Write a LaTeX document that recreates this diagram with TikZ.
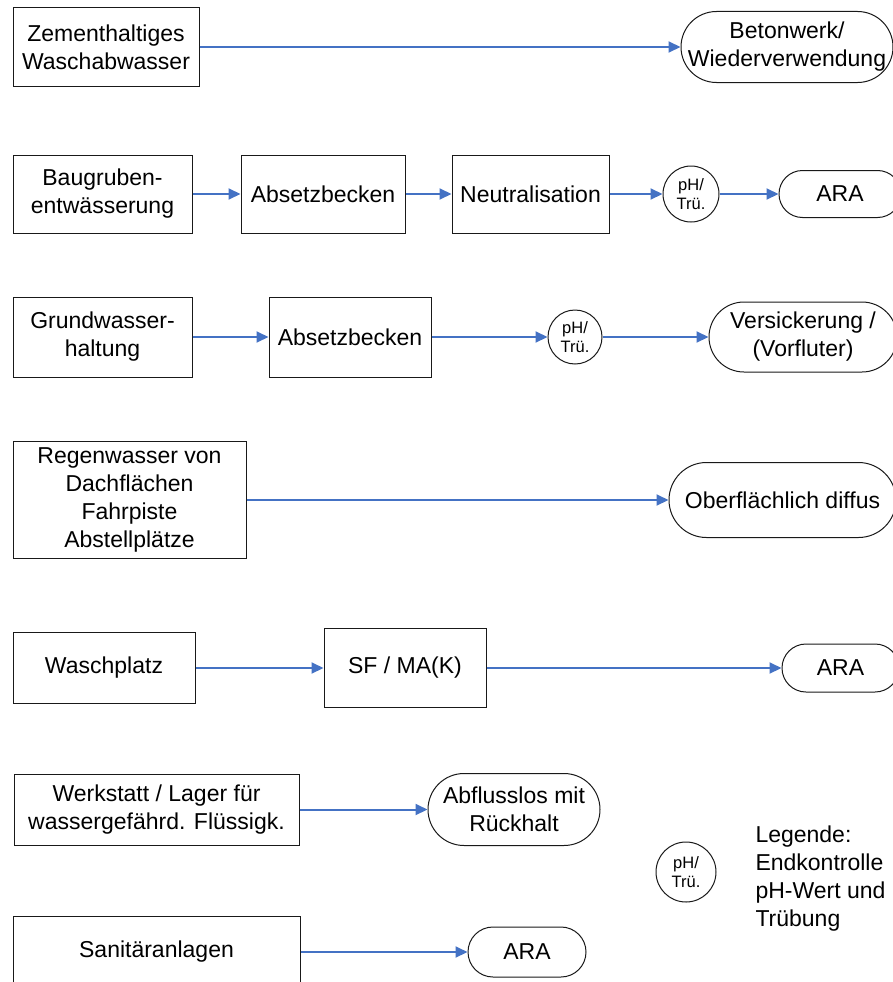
\documentclass[tikz,border=0pt]{standalone}
\usepackage{fontspec}
\setmainfont{Liberation Sans}
\usepackage{tikz}
\usetikzlibrary{shapes,arrows.meta,positioning}
\definecolor{flowblue}{RGB}{68,114,196}

\begin{document}
\begin{tikzpicture}[
    x=1pt, y=1pt,
    block/.style={draw=black!90, line width=1pt, align=center, inner sep=0pt, font=\fontsize{23}{28}\selectfont},
    term/.style={block, rounded corners=#1, minimum height=2*#1},
    check/.style={draw=black!90, line width=1pt, circle, align=center, inner sep=0pt, minimum size=56, font=\fontsize{16.5}{18.5}\selectfont},
    arrow/.style={draw=flowblue, line width=2pt, -{Triangle[length=12pt,width=11pt]}}
]
    \useasboundingbox (0,0) rectangle (893,-982);

    \node (zem) [block, minimum width=186, minimum height=79] at (106,-47) {Zementhaltiges\\Waschabwasser};
    \node (beton) [term=35.5pt, minimum width=212, right=481pt of zem] {Betonwerk/\\Wiederverwendung};

    \node (bau) [block, minimum width=179, minimum height=78] at (102.5,-194) {Baugruben-\\entwässerung};
    \node (abs1) [block, minimum width=164, minimum height=78, right=48pt of bau] {Absetzbecken};
    \node (neu) [block, minimum width=157, minimum height=78, right=46pt of abs1] {Neutralisation};
    \node (ph1) [check, right=53pt of neu] {pH/\\Trü.};
    \node (ara1) [term=23.5pt, minimum width=122, right=59pt of ph1] {ARA};

    \node (gw) [block, minimum width=179, minimum height=80] at (102.5,-337) {Grundwasser-\\haltung};
    \node (abs2) [block, minimum width=162, minimum height=80, right=76pt of gw] {Absetzbecken};
    \node (ph2) [check, minimum size=54, right=116pt of abs2] {pH/\\Trü.};
    \node (vers) [term=35pt, minimum width=188, right=106pt of ph2] {Versickerung /\\(Vorfluter)};

    \node (reg) [block, minimum width=233, minimum height=117] at (129.5,-500) {Regenwasser von\\Dachflächen\\Fahrpiste\\Abstellplätze};
    \node (ober) [term=37.5pt, minimum width=227, right=422pt of reg] {Oberflächlich diffus};

    \node (wasch) [block, minimum width=182, minimum height=71] at (104,-668) {Waschplatz};
    \node (sf) [block, minimum width=162, minimum height=79, right=128pt of wasch] {SF / MA(K)};
    \node (ara2) [term=24pt, minimum width=117, right=295pt of sf] {ARA};

    \node (werk) [block, minimum width=285, minimum height=71] at (156.5,-809.5) {Werkstatt / Lager für\\wassergefährd. Flüssigk.};
    \node (abfl) [term=36pt, minimum width=172, right=128pt of werk] {Abflusslos mit\\Rückhalt};

    \node (sani) [block, minimum width=287, minimum height=72] at (156.5,-952) {Sanitäranlagen};
    \node (ara3) [term=25pt, minimum width=118, right=167pt of sani] {ARA};

    % legend
    \node (phleg) [check, minimum size=60] at (686,-872) {pH/\\Trü.};
    \node (leg) [block, draw=none, anchor=west, align=left] at (755,-879) {Legende:\\Endkontrolle\\pH-Wert und\\Trübung};

    \draw [arrow] (zem) -- (beton);
    \draw [arrow] (bau) -- (abs1);
    \draw [arrow] (abs1) -- (neu);
    \draw [arrow] (neu) -- (ph1);
    \draw [arrow] (ph1) -- (ara1);
    \draw [arrow] (gw) -- (abs2);
    \draw [arrow] (abs2) -- (ph2);
    \draw [arrow] (ph2) -- (vers);
    \draw [arrow] (reg) -- (ober);
    \draw [arrow] (wasch) -- (sf);
    \draw [arrow] (sf) -- (ara2);
    \draw [arrow] (werk) -- (abfl);
    \draw [arrow] (sani) -- (ara3);
\end{tikzpicture}
\end{document}
